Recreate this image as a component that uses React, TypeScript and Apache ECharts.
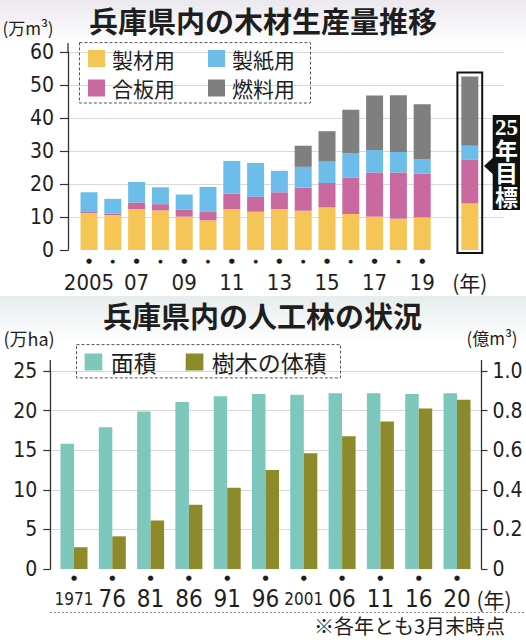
import React, { useEffect, useRef } from "react";
import * as echarts from "echarts";

// ---- Data: 兵庫県内の木材生産量推移 (万m³) ----
const woodYears = ["2005", "2006", "2007", "2008", "2009", "2010", "2011", "2012", "2013", "2014", "2015", "2016", "2017", "2018", "2019", "", "2025目標"];
const woodTickLabels = ["2005", "", "07", "", "09", "", "11", "", "13", "", "15", "", "17", "", "19", "", "(年)"];
const seizai = [11.2, 10.6, 12.4, 12.0, 10.1, 9.0, 12.4, 11.6, 12.4, 11.9, 12.9, 10.9, 10.1, 9.5, 9.9, null, 14.1];
const gouhan = [0.3, 0.4, 2.0, 1.9, 2.1, 2.5, 4.7, 4.5, 5.1, 7.0, 7.4, 11.1, 13.4, 14.0, 13.3, null, 13.2];
const seishi = [6.0, 4.5, 6.2, 5.1, 4.6, 7.6, 9.9, 10.3, 6.5, 6.3, 6.5, 7.4, 6.8, 6.2, 4.3, null, 4.3];
const nenryo = [null, null, null, null, null, null, null, null, null, 6.4, 9.2, 13.1, 16.5, 17.2, 16.7, null, 21.0];
const targetIndex = 16;

// ---- Data: 兵庫県内の人工林の状況 ----
const forestYears = ["1971", "76", "81", "86", "91", "96", "2001", "06", "11", "16", "20"];
const forestArea = [15.8, 17.9, 19.9, 21.1, 21.8, 22.1, 22.0, 22.2, 22.2, 22.1, 22.2]; // 万ha
const treeVolume = [0.11, 0.165, 0.245, 0.325, 0.41, 0.5, 0.585, 0.67, 0.745, 0.81, 0.855]; // 億m³

const numFont = '"Liberation Sans Narrow","DejaVu Sans Condensed","Liberation Sans",sans-serif';
const jpFont = '"Noto Sans CJK JP","Noto Sans",sans-serif';
const ink = "#1e1e1e";

function sumAt(i: number) {
  return [seizai, gouhan, seishi, nenryo].reduce((s, a) => s + (a[i] || 0), 0);
}

export default function App() {
  const ref = useRef<HTMLDivElement>(null);
  useEffect(() => {
    if (!ref.current) return;
    const chart = echarts.init(ref.current, null, { renderer: "svg" });
    const dotRich = {
      b: { fontSize: 7, fontFamily: "DejaVu Sans", color: ink, lineHeight: 14 },
      s: { fontSize: 5, fontFamily: "DejaVu Sans", color: ink, lineHeight: 14 },
      e: { fontSize: 7, lineHeight: 14 },
    };
    const legendCommon = {
      orient: "horizontal",
      padding: 0,
      itemWidth: 17,
      itemHeight: 17,
      itemGap: 33,
      icon: "rect",
      selectedMode: false,
      textStyle: { fontSize: 21, lineHeight: 22, fontFamily: jpFont, color: ink, padding: [0, 0, 0, 2] },
    };
    const txt = (x: number, y: number, text: string, extra: any = {}) => ({
      type: "text",
      x,
      y,
      z: 10,
      style: {
        text,
        fill: ink,
        fontFamily: jpFont,
        fontSize: 18,
        textAlign: "center",
        align: "center",
        textVerticalAlign: "middle",
        verticalAlign: "middle",
        ...extra,
      },
    });
    const option: any = {
      animation: false,
      backgroundColor: "#ffffff",
      grid: [
        { left: 77.1, top: 52, width: 404.6, height: 198 },
        { left: 68, top: 52, width: 436, height: 198 },
        { left: 54.85, top: 371, width: 421.3, height: 198 },
        { left: 50.3, top: 371, width: 431.2, height: 198 },
      ],
      xAxis: [
        {
          gridIndex: 0,
          type: "category",
          data: woodYears,
          axisLine: { show: false },
          axisTick: { show: false },
          axisLabel: {
            interval: 0,
            margin: 4,
            formatter: (_v: string, i: number) => {
              const t = woodTickLabels[i];
              let dot = "{e| }";
              if (woodYears[i] !== "" && !t.startsWith("(")) dot = t ? "{b|●}" : "{s|●}";
              const lbl = t.startsWith("(") ? `{n|${t}}` : t ? `{t|${t}}` : "{t| }";
              return dot + "\n" + lbl;
            },
            rich: {
              ...dotRich,
              t: { fontSize: 22, fontFamily: numFont, color: ink, lineHeight: 28 },
              n: { fontSize: 21, fontFamily: jpFont, color: ink, lineHeight: 28 },
            },
          },
        },
        { gridIndex: 1, type: "value", show: false, min: 0, max: 1 },
        {
          gridIndex: 2,
          type: "category",
          data: forestYears,
          axisLine: { show: false },
          axisTick: { show: false },
          axisLabel: {
            interval: 0,
            margin: 2,
            formatter: (v: string) => "{b|●}\n" + (v.length > 2 ? `{w|${v}}` : `{t|${v}}`),
            rich: {
              ...dotRich,
              t: { fontSize: 24, fontFamily: numFont, color: ink, lineHeight: 28 },
              w: { fontSize: 17, fontFamily: numFont, color: ink, lineHeight: 28 },
            },
          },
        },
        { gridIndex: 3, type: "value", show: false, min: 0, max: 1 },
      ],
      yAxis: [
        { gridIndex: 0, type: "value", min: 0, max: 60, interval: 10, show: false },
        {
          gridIndex: 1,
          type: "value",
          min: 0,
          max: 60,
          interval: 10,
          axisLine: { show: true, lineStyle: { color: "#333", width: 1.3 } },
          axisTick: { show: true, length: 8, lineStyle: { color: "#333", width: 1.2 } },
          axisLabel: { margin: 14, fontSize: 21, fontFamily: numFont, color: ink },
          splitLine: { show: true, showMinLine: false, lineStyle: { color: "#d8d8d8", width: 1 } },
        },
        { gridIndex: 2, type: "value", min: 0, max: 25, interval: 5, show: false },
        { gridIndex: 2, type: "value", min: 0, max: 1, interval: 0.2, show: false },
        {
          gridIndex: 3,
          type: "value",
          position: "left",
          min: 0,
          max: 25,
          interval: 5,
          axisLine: { show: true, lineStyle: { color: "#333", width: 1.3 } },
          axisTick: { show: true, length: 7, lineStyle: { color: "#333", width: 1.2 } },
          axisLabel: { margin: 13, fontSize: 21, fontFamily: numFont, color: ink },
          splitLine: { show: true, showMinLine: false, lineStyle: { color: "#d8d8d8", width: 1 } },
        },
        {
          gridIndex: 3,
          type: "value",
          position: "right",
          min: 0,
          max: 1,
          interval: 0.2,
          axisLine: { show: true, lineStyle: { color: "#333", width: 1.3 } },
          axisTick: { show: true, length: 6, lineStyle: { color: "#333", width: 1.2 } },
          axisLabel: {
            margin: 11,
            fontSize: 21,
            fontFamily: numFont,
            color: ink,
            formatter: (v: number) => (v === 0 ? "0" : v.toFixed(1)),
          },
          splitLine: { show: false },
        },
      ],
      legend: [
        { ...legendCommon, data: ["製材用", "製紙用"], left: 88, top: 47.5 },
        { ...legendCommon, data: ["合板用", "燃料用"], left: 88, top: 77 },
        {
          ...legendCommon,
          data: ["面積", "樹木の体積"],
          left: 84.6,
          top: 350,
          itemWidth: 17.7,
          itemGap: 29,
          textStyle: { ...legendCommon.textStyle, fontSize: 23, lineHeight: 24, padding: [0, 0, 0, 3.4] },
        },
      ],
      series: [
        { name: "製材用", type: "bar", stack: "wood", xAxisIndex: 0, yAxisIndex: 0, barWidth: 17, data: seizai, itemStyle: { color: "#f5c555" } },
        { name: "合板用", type: "bar", stack: "wood", xAxisIndex: 0, yAxisIndex: 0, barWidth: 17, data: gouhan, itemStyle: { color: "#c969a0" } },
        { name: "製紙用", type: "bar", stack: "wood", xAxisIndex: 0, yAxisIndex: 0, barWidth: 17, data: seishi, itemStyle: { color: "#6cbde9" } },
        { name: "燃料用", type: "bar", stack: "wood", xAxisIndex: 0, yAxisIndex: 0, barWidth: 17, data: nenryo, itemStyle: { color: "#7f7f7f" } },
        {
          name: "目標枠",
          type: "custom",
          xAxisIndex: 0,
          yAxisIndex: 0,
          z: 5,
          silent: true,
          data: [[targetIndex, sumAt(targetIndex)]],
          renderItem: (_p: any, api: any) => {
            const top = api.coord([api.value(0), api.value(1)]);
            const base = api.coord([api.value(0), 0]);
            return {
              type: "rect",
              shape: { x: top[0] - 12.4, y: top[1] - 3.8, width: 24.8, height: base[1] - top[1] + 6.8 },
              style: { fill: "none", stroke: "#111", lineWidth: 2 },
            };
          },
        },
        { name: "面積", type: "bar", xAxisIndex: 2, yAxisIndex: 2, barWidth: 13.5, barGap: "0%", data: forestArea, itemStyle: { color: "#7dc7bd" } },
        { name: "樹木の体積", type: "bar", xAxisIndex: 2, yAxisIndex: 3, barWidth: 13.5, barGap: "0%", data: treeVolume, itemStyle: { color: "#8c8a2a" } },
      ],
      graphic: [
        {
          type: "rect",
          z: -100,
          shape: { x: 0, y: 0, width: 526, height: 44 },
          style: { fill: new echarts.graphic.LinearGradient(0, 0, 0, 1, [{ offset: 0, color: "#ebe8ee" }, { offset: 1, color: "#ffffff" }]) },
        },
        {
          type: "rect",
          z: -100,
          shape: { x: 0, y: 296, width: 526, height: 46 },
          style: { fill: new echarts.graphic.LinearGradient(0, 0, 0, 1, [{ offset: 0, color: "#e7eced" }, { offset: 1, color: "#ffffff" }]) },
        },
        txt(263, 19.5, "兵庫県内の木材生産量推移", { fontSize: 29, fontWeight: "bold" }),
        txt(262.6, 314.5, "兵庫県内の人工林の状況", { fontSize: 29, fontWeight: "bold" }),
        txt(28, 27, "(万m³)", { fontSize: 17 }),
        txt(29, 337.5, "(万ha)", { fontSize: 18 }),
        txt(492, 337, "(億m³)", { fontSize: 17 }),
        txt(494, 599, "(年)", { fontSize: 21 }),
        txt(505, 625, "※各年とも3月末時点", { fontSize: 20, textAlign: "right", align: "right" }),
        {
          type: "rect",
          z: 10,
          shape: { x: 79.5, y: 42.6, width: 231, height: 60.4 },
          style: { fill: "none", stroke: "#555", lineWidth: 1, lineDash: [3, 2] },
        },
        {
          type: "rect",
          z: 10,
          shape: { x: 76.5, y: 344.6, width: 264, height: 33.3 },
          style: { fill: "none", stroke: "#555", lineWidth: 1, lineDash: [3, 2] },
        },
        { type: "line", z: 10, shape: { x1: 68, y1: 43, x2: 68, y2: 52 }, style: { stroke: "#333", lineWidth: 1.3 } },
        { type: "line", z: 10, shape: { x1: 50.3, y1: 360, x2: 50.3, y2: 371 }, style: { stroke: "#333", lineWidth: 1.3 } },
        { type: "line", z: 10, shape: { x1: 481.5, y1: 360, x2: 481.5, y2: 371 }, style: { stroke: "#333", lineWidth: 1.3 } },
        { type: "line", z: 10, shape: { x1: 50, y1: 612.5, x2: 526, y2: 612.5 }, style: { stroke: "#888", lineWidth: 1, lineDash: [2, 2] } },
        {
          type: "polygon",
          z: 10,
          shape: { points: [[492.7, 115], [520, 115], [520, 210], [492.7, 210], [492.7, 174], [484, 166], [492.7, 158]] },
          style: { fill: "#111" },
        },
        txt(506.4, 163, "25\n年\n目\n標", {
          fontSize: 23,
          fontWeight: "bold",
          fontFamily: '"Liberation Serif","DejaVu Serif","Noto Sans CJK JP",serif',
          fill: "#ffffff",
          lineHeight: 23.5,
        }),
      ],
    };
    chart.setOption(option);
    return () => chart.dispose();
  }, []);
  return (
    <div
      ref={ref}
      style={{ position: "fixed", left: 0, top: 0, width: 526, height: 640, background: "#fff" }}
    />
  );
}
